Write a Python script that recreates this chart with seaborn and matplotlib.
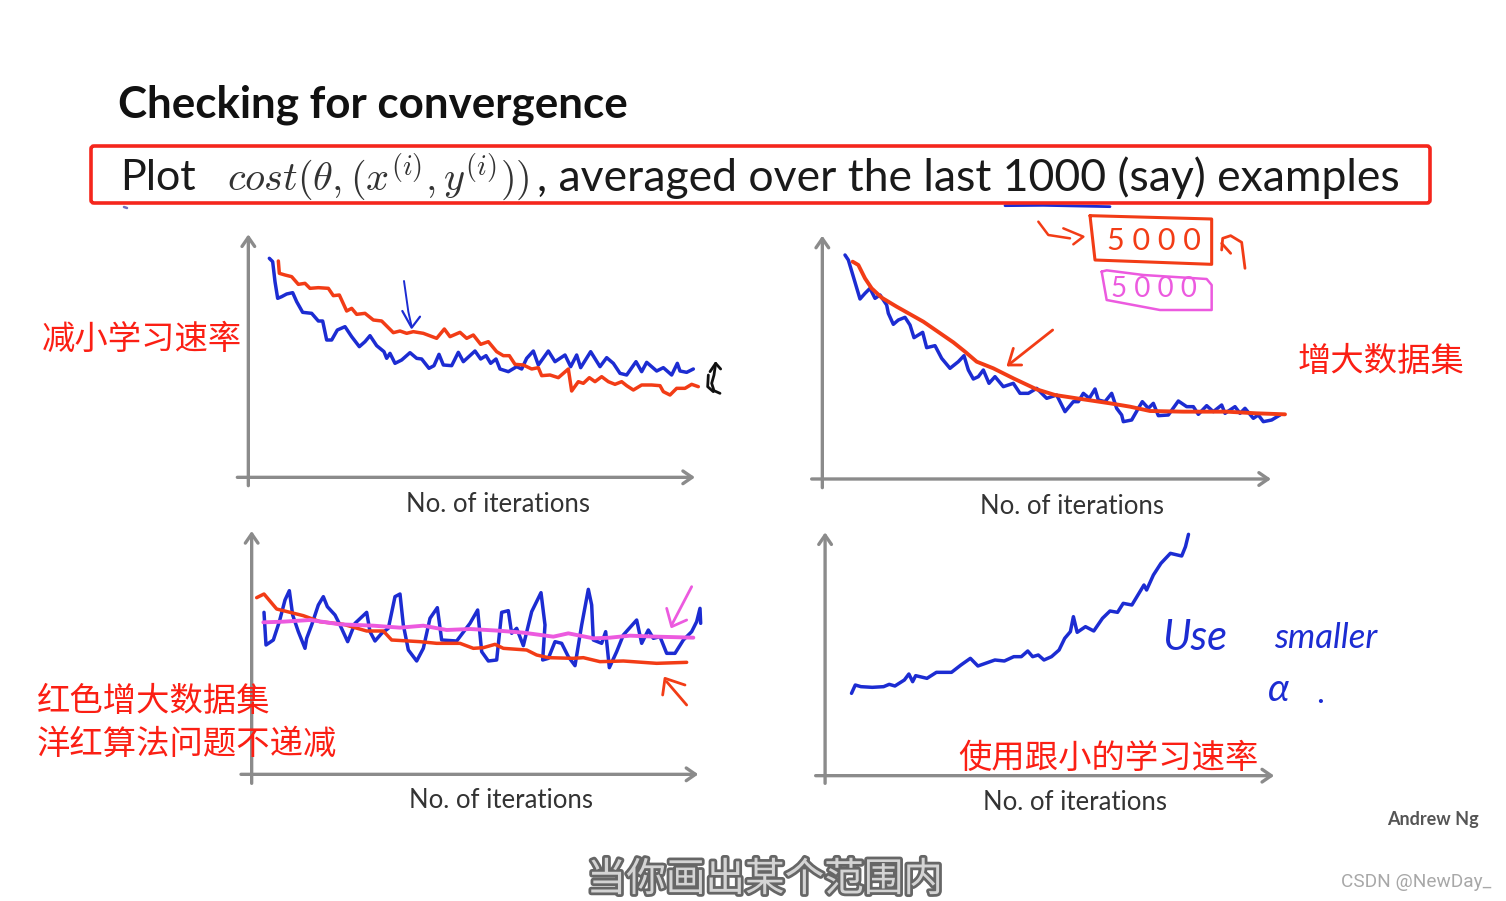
import numpy as np
import pandas as pd
import matplotlib
matplotlib.use("Agg")
import matplotlib.pyplot as plt
import matplotlib.patheffects as pe
from matplotlib.patches import FancyBboxPatch
import seaborn as sns

sns.set_theme(style="white")
plt.rcParams['font.family'] = ['Noto Sans CJK SC', 'DejaVu Sans']
plt.rcParams['mathtext.fontset'] = 'cm'

BLUE, RED, MAGENTA, GREY = "#1c2cd2", "#f23c16", "#ec5adf", "#8b8b8b"

# Learning curves: (iteration, depth below top of the panel)
p1_blue = [(118,100),(128,110),(135,170),(143,220),(155,215),(170,207),(188,203),(200,230),(218,262),(245,265),(265,288),(278,288),(290,345),(305,345),(322,315),(345,305),(365,335),(388,365),(405,350),(420,332),(440,362),(462,380),(470,400),(480,385),(495,415),(515,405),(540,383),(560,400),(575,402),(597,430),(612,422),(627,388),(640,420),(665,422),(685,382),(700,410),(735,378),(752,402),(768,392),(782,415),(798,402),(810,432),(835,440),(860,425),(875,432),(890,400),(910,378),(925,420),(955,378),(975,410),(1005,390),(1022,425),(1040,390),(1052,428),(1082,380),(1110,425),(1130,398),(1150,415),(1170,445),(1190,450),(1218,410),(1235,440),(1250,412),(1280,438),(1300,428),(1325,450),(1342,415),(1350,438),(1370,442),(1390,432)]
p1_red = [(145,108),(148,145),(165,150),(185,155),(205,178),(225,175),(240,190),(265,188),(295,190),(310,212),(328,210),(350,258),(365,250),(380,268),(405,265),(430,285),(455,288),(490,323),(510,318),(530,325),(550,320),(580,325),(620,340),(643,312),(660,335),(690,322),(710,340),(730,330),(752,358),(775,350),(800,380),(820,392),(838,392),(855,418),(880,420),(905,432),(925,428),(935,452),(960,450),(985,458),(1015,432),(1025,498),(1045,470),(1060,475),(1078,458),(1095,470),(1115,455),(1135,470),(1155,478),(1175,470),(1190,482),(1210,495),(1235,480),(1265,480),(1290,482),(1300,500),(1320,510),(1340,490),(1365,490),(1385,478),(1405,485)]
p2_blue = [(105,150),(115,165),(130,215),(150,282),(165,265),(180,250),(195,280),(210,270),(230,300),(235,325),(250,358),(265,345),(285,337),(300,360),(312,398),(338,382),(350,428),(375,422),(395,460),(420,490),(445,470),(462,452),(475,495),(490,522),(505,515),(520,495),(537,535),(555,515),(580,545),(610,535),(630,565),(655,565),(680,550),(710,580),(740,570),(765,620),(790,590),(805,590),(820,565),(838,580),(855,552),(865,585),(885,590),(905,565),(920,610),(935,630),(940,650),(965,645),(985,610),(997,590),(1015,610),(1030,595),(1045,632),(1075,630),(1105,588),(1130,605),(1150,605),(1165,628),(1190,602),(1210,620),(1235,600),(1245,625),(1275,605),(1290,625),(1305,610),(1330,640),(1345,630),(1360,650),(1385,645),(1410,630)]
p2_red = [(128,170),(145,180),(165,220),(185,250),(215,278),(260,305),(340,350),(430,412),(465,440),(500,470),(550,490),(610,520),(680,553),(735,570),(800,580),(900,595),(960,605),(1020,618),(1120,620),(1250,620),(1340,625),(1425,628)]
p3_blue = [(72,262),(78,360),(100,345),(118,290),(135,225),(148,197),(158,270),(175,320),(195,370),(200,340),(215,300),(235,240),(250,215),(262,245),(285,270),(300,300),(323,350),(345,295),(380,262),(390,320),(405,348),(425,325),(445,310),(465,215),(480,207),(490,300),(505,375),(530,408),(550,370),(570,280),(592,248),(605,345),(650,348),(690,295),(713,255),(725,380),(745,408),(770,405),(785,262),(805,257),(815,325),(830,310),(850,362),(875,260),(903,203),(915,300),(908,405),(925,400),(945,350),(965,355),(985,395),(1005,422),(1025,300),(1045,193),(1055,240),(1060,345),(1085,355),(1097,320),(1108,428),(1130,380),(1150,330),(1190,285),(1205,355),(1225,315),(1240,340),(1260,335),(1280,385),(1305,385),(1330,345),(1355,320),(1370,290),(1380,250),(1382,295)]
p3_red = [(50,218),(72,207),(110,252),(190,272),(240,290),(310,298),(380,318),(430,318),(455,345),(540,350),(590,355),(660,355),(700,370),(730,368),(765,358),(790,370),(860,375),(890,390),(925,398),(1000,400),(1030,398),(1080,410),(1150,408),(1250,415),(1340,412)]
p3_magenta = [(70,292),(130,290),(210,285),(300,298),(400,302),(480,308),(550,302),(620,315),(690,312),(775,317),(850,323),(940,335),(985,325),(1060,340),(1110,338),(1170,332),(1250,335),(1360,338)]
p4_blue = [(110,505),(120,480),(135,485),(165,487),(195,485),(210,478),(225,483),(250,465),(262,447),(272,470),(280,452),(310,460),(335,442),(375,442),(400,420),(425,400),(445,423),(490,405),(515,408),(540,395),(560,395),(577,378),(590,395),(605,390),(620,405),(640,395),(660,375),(675,340),(690,320),(698,275),(708,322),(730,305),(752,318),(775,280),(795,258),(815,262),(830,235),(853,240),(885,180),(892,195),(910,150),(930,115),(955,85),(985,93),(995,65),(1003,28)]

# Pen annotations on the panels
p1_pen_arrow = [(522,168),(535,260),(545,305)]
p1_pen_head = [(517,258),(545,308),(570,275)]
p1_ink_a = [(1440,440),(1457,415),(1472,432)]
p1_ink_b = [(1457,415),(1452,450),(1445,475),(1452,497),(1470,505)]
p1_ink_c = [(1435,450),(1433,485),(1450,500)]
p2_arrow = [(728,375),(595,480)]
p2_head = [(610,430),(595,480),(635,480)]
p2_curl = [(685,50),(715,90),(780,100)]
p2_curl_head = [(760,70),(820,95),(790,118)]
p2_box = [(840,32),(1205,42),(1205,178),(855,165),(840,32)]
p2_hook = [(1235,135),(1238,100),(1262,92),(1295,112),(1305,190)]
p2_hook_head = [(1235,115),(1262,145)]
p2_mbox = [(875,200),(890,196),(1000,210),(1190,222),(1205,240),(1205,315),(1050,315),(890,285),(875,200)]
p2_underline = [(585,2),(700,1),(900,5)]
p3_m_arrow = [(1355,185),(1295,300)]
p3_m_head = [(1280,250),(1295,305),(1340,285)]
p3_r_arrow = [(1340,540),(1280,470)]
p3_r_head = [(1268,510),(1275,460),(1335,480)]
stray_dot = [(124,207),(127,208)]

xlabel_text = "No. of iterations"

W, H = 1506, 901
fig = plt.figure(figsize=(15.06, 9.01), dpi=100, facecolor="white")


def panel(left, top, width, height, xscale=3.0):
    ax = fig.add_axes([left / W, 1 - (top + height) / H, width / W, height / H])
    ax.set_xlim(0, width * xscale)
    ax.set_ylim(height * 3, 0)
    ax.patch.set_alpha(0)
    return ax


def pen(ax, pts, color, lw=2.5):
    df = pd.DataFrame(pts, columns=["iteration", "cost"])
    sns.lineplot(data=df, x="iteration", y="cost", ax=ax, color=color, lw=lw,
                 sort=False, estimator=None, errorbar=None, clip_on=False,
                 solid_joinstyle="round", solid_capstyle="round")


def finish(ax, x0, x1, xy, y0, y1, yx):
    for tail, tip in [((x0, xy), (x1, xy)), ((yx, y0), (yx, y1))]:
        ax.annotate("", xy=tip, xytext=tail,
                    arrowprops=dict(arrowstyle="->,head_length=0.55,head_width=0.38",
                                    color=GREY, lw=2.4, shrinkA=0, shrinkB=0))
    ax.set_axis_off()


a1 = panel(230, 225, 500, 270)
pen(a1, p1_blue, BLUE); pen(a1, p1_red, RED)
pen(a1, p1_pen_arrow, BLUE, 1.4); pen(a1, p1_pen_head, BLUE, 1.6)
for s in (p1_ink_a, p1_ink_b, p1_ink_c):
    pen(a1, s, "#111111", 2.0)
finish(a1, 22, 1395, 757, 782, 28, 55)

a2 = panel(810, 205, 490, 290)
pen(a2, p2_blue, BLUE); pen(a2, p2_red, RED, 2.8)
pen(a2, p2_arrow, RED, 2.0); pen(a2, p2_head, RED, 2.0)
pen(a2, p2_curl, RED, 1.8); pen(a2, p2_curl_head, RED, 1.8)
pen(a2, p2_box, RED, 2.2)
pen(a2, p2_hook, RED, 2.0); pen(a2, p2_hook_head, RED, 2.0)
pen(a2, p2_mbox, MAGENTA, 1.8)
pen(a2, p2_underline, BLUE, 2.0)
finish(a2, 5, 1383, 822, 848, 92, 37)

a3 = panel(240, 525, 470, 270)
pen(a3, p3_blue, BLUE); pen(a3, p3_red, RED); pen(a3, p3_magenta, MAGENTA, 2.8)
pen(a3, p3_m_arrow, MAGENTA, 2.0); pen(a3, p3_m_head, MAGENTA, 2.0)
pen(a3, p3_r_arrow, RED, 2.0); pen(a3, p3_r_head, RED, 2.0)
finish(a3, 3, 1375, 748, 775, 18, 35)

a4 = panel(810, 525, 590, 270, xscale=2.65)
pen(a4, p4_blue, BLUE)
finish(a4, 15, 1230, 752, 775, 22, 40)

# Overlay in figure pixels for the text
ov = fig.add_axes([0, 0, 1, 1], zorder=5)
ov.set_xlim(0, W); ov.set_ylim(H, 0); ov.patch.set_alpha(0); ov.set_axis_off()
pen(ov, stray_dot, "#7070c0", 1.8)
ov.set_axis_off()

LATIN = ['Lato', 'DejaVu Sans']
ov.text(118, 105, "Checking for convergence", family=LATIN, weight="bold", fontsize=31.6,
        va="center", ha="left", color="#111111")
ov.add_patch(FancyBboxPatch((91, 146), 1339, 57, boxstyle="round,pad=0,rounding_size=3",
                            fc="none", ec="#f5261c", lw=2.6))
ov.text(120, 178, "Plot", family=LATIN, fontsize=31, va="center", color="#1a1a1a")
ov.text(227, 177, r"$cost(\theta,(x^{(i)},y^{(i)}))$", fontsize=29, va="center", color="#333333")
ov.text(537, 178, ", averaged over the last 1000 (say) examples", family=LATIN, fontsize=32,
        va="center", color="#1a1a1a")

for (x, y) in [(498, 504), (1072, 506), (501, 801), (1075, 803)]:
    ov.text(x, y, xlabel_text, family=LATIN, fontsize=18.5, ha="center", va="center", color="#333333")

CJK = ['Noto Sans CJK SC', 'DejaVu Sans']
for (x, y, s) in [(42, 339, "减小学习速率"), (1298, 362, "增大数据集"), (37, 701, "红色增大数据集"),
                  (37, 744, "洋红算法问题不递减"), (958, 758, "使用跟小的学习速率")]:
    ov.text(x, y, s, family=CJK, fontsize=24, color="#fb1f14", va="center", ha="left")

ov.text(1433, 820, "Andrew Ng", family=LATIN, fontsize=13, weight="bold", ha="center", va="center", color="#555555")
ov.text(1491, 882, "CSDN @NewDay_", family=['Roboto', 'DejaVu Sans'], fontsize=13.7, ha="right", va="center", color="#a8a8a8")
ov.text(765, 880, "当你画出某个范围内", family=CJK, fontsize=28.5, ha="center", va="center", color="#d4d4d4",
        path_effects=[pe.withStroke(linewidth=4, foreground="#666666")])

HAND = ['Lato', 'DejaVu Sans']
ov.text(1195, 638, "Use", family=HAND, style="italic", fontsize=30, ha="center", va="center", color=BLUE)
ov.text(1326, 638, "smaller", family=HAND, style="italic", fontsize=25, ha="center", va="center", color=BLUE)
ov.text(1279, 690, "α", family=HAND, style="italic", fontsize=28, ha="center", va="center", color=BLUE)
ov.text(1320, 694, ".", family=HAND, fontsize=24, ha="center", va="center", color=BLUE)
ov.text(1154, 241, "5 0 0 0", family=HAND, fontsize=22, ha="center", va="center", color=RED)
ov.text(1154, 289, "5 0 0 0", family=HAND, fontsize=20, ha="center", va="center", color=MAGENTA)

fig.savefig("out.png", dpi=100, facecolor="white")
